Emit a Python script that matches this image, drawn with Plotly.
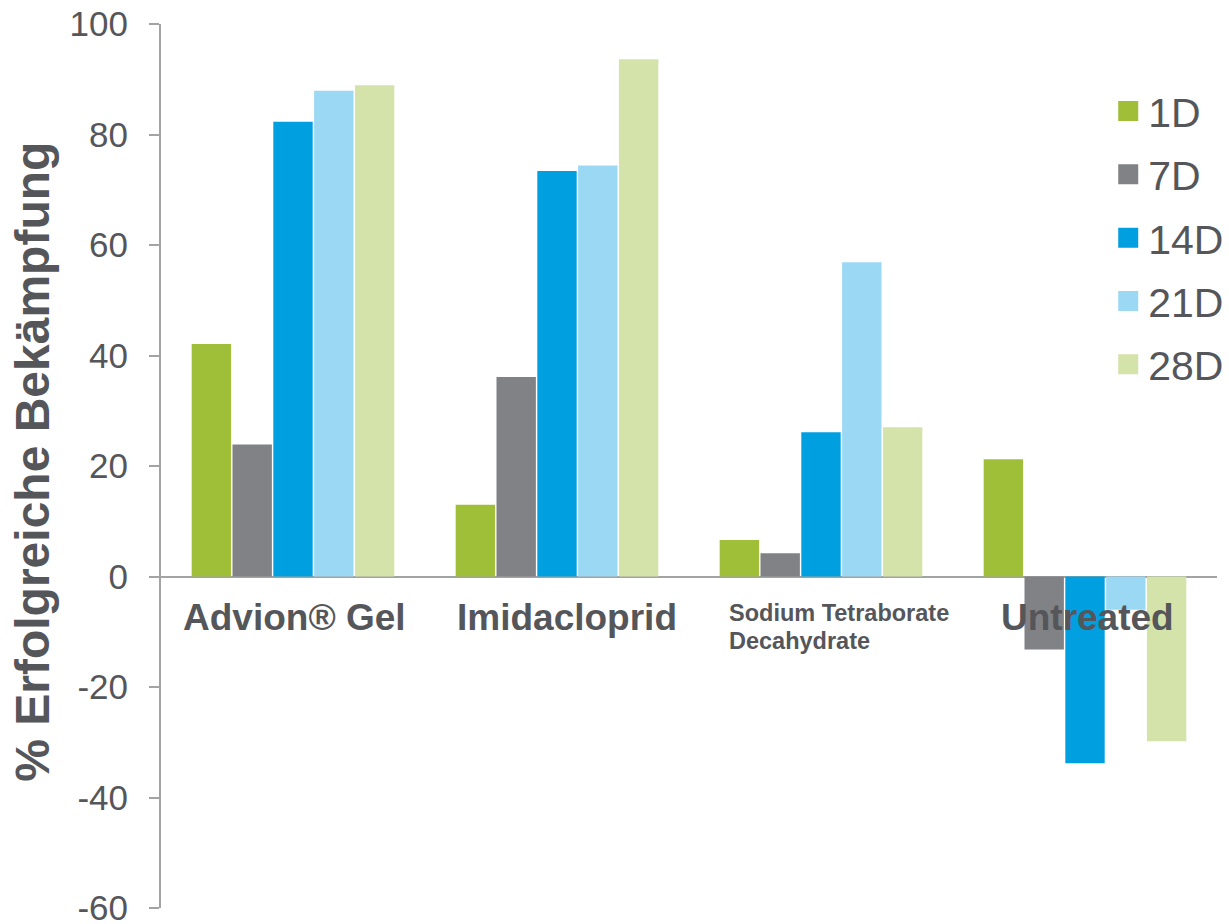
import plotly.graph_objects as go

categories = ["Advion® Gel", "Imidacloprid", "Sodium Tetraborate Decahydrate", "Untreated"]
series_names = ["1D", "7D", "14D", "21D", "28D"]
v_1d = [42.1, 13.0, 6.6, 21.2]
v_7d = [23.9, 36.1, 4.2, -13.2]
v_14d = [82.3, 73.4, 26.1, -33.8]
v_21d = [87.9, 74.4, 56.9, -6.0]
v_28d = [88.9, 93.6, 27.0, -29.8]
y_ticks = [-60, -40, -20, 0, 20, 40, 60, 80, 100]

values = [v_1d, v_7d, v_14d, v_21d, v_28d]
colors = ["#a0bf38", "#818286", "#009fe0", "#9bd8f3", "#d4e3a9"]
text_col = "#55565a"
font_fam = "Liberation Sans, Arial, sans-serif"

fig = go.Figure()
for name, vals, col in zip(series_names, values, colors):
    fig.add_trace(go.Bar(x=categories, y=vals, name=name, marker=dict(color=col, line=dict(width=0)),
                         showlegend=False))
# legend proxies (square markers)
for name, col in zip(series_names, colors):
    fig.add_trace(go.Scatter(x=[None], y=[None], mode="markers", name=name, legendgroup=name,
                             marker=dict(symbol="square", size=16, color=col,
                                         line=dict(color=col, width=4)),
                             showlegend=True))

annotations = []
big_labels = {"Advion® Gel": 1, "Imidacloprid": 10, "Untreated": 2}
for cat, xs in big_labels.items():
    annotations.append(dict(x=cat, y=0, xref="x", yref="y", text="<b>" + cat + "</b>",
                            showarrow=False, xanchor="center", yanchor="top", xshift=xs, yshift=-18,
                            font=dict(family=font_fam, size=37, color=text_col)))
# two-line small label for the third category
sodium = categories[2]
for i, line in enumerate(["Sodium Tetraborate", "Decahydrate"]):
    annotations.append(dict(x=sodium, y=0, xref="x", yref="y", text="<b>" + line + "</b>",
                            showarrow=False, xanchor="left", yanchor="top", xshift=-94,
                            yshift=-21 - 28 * i,
                            font=dict(family=font_fam, size=23.5, color=text_col)))
annotations.append(dict(x=-0.122, y=0.505, xref="paper", yref="paper", text="<b>% Erfolgreiche Bekämpfung</b>",
                        textangle=-90, showarrow=False, xanchor="center", yanchor="middle",
                        font=dict(family=font_fam, size=48, color=text_col)))

fig.update_layout(
    width=1229, height=924,
    margin=dict(l=161, r=12, t=24, b=16, autoexpand=False),
    paper_bgcolor="white", plot_bgcolor="white",
    barmode="group", bargap=0.227, bargroupgap=0.035,
    font=dict(family=font_fam, color=text_col),
    xaxis=dict(showticklabels=False, showline=False, showgrid=False, ticks="", zeroline=False,
               automargin=False),
    yaxis=dict(range=[-60, 100], tickvals=y_ticks, ticktext=[str(t) for t in y_ticks],
               showgrid=False, showline=True, linecolor="#a3a3a3", linewidth=2,
               ticks="outside", ticklen=10, tickwidth=2, tickcolor="#a3a3a3",
               zeroline=True, zerolinecolor="#a3a3a3", zerolinewidth=2,
               automargin=False, ticklabelstandoff=14, ticklabeloverflow="allow",
               tickfont=dict(family=font_fam, size=35, color=text_col)),
    legend=dict(x=0.897, y=0.939, xanchor="left", yanchor="top", bgcolor="rgba(0,0,0,0)",
                font=dict(family=font_fam, size=41, color=text_col), tracegroupgap=7,
                itemwidth=30),
    annotations=annotations,
)
fig.write_html("out.html")
